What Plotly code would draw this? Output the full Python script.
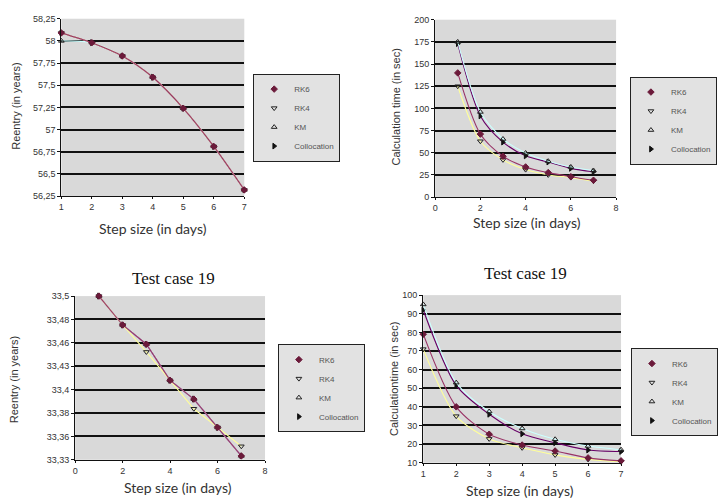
import plotly.graph_objects as go
import numpy as np

W, H = 718, 503

steps = [1, 2, 3, 4, 5, 6, 7]
series_names = ["RK6", "RK4", "KM", "Collocation"]

# Panel 1: reentry (years)
p1_rk6 = [58.09, 57.98, 57.83, 57.59, 57.24, 56.81, 56.32]
p1_rk4 = [58.09, 57.98, 57.83, 57.59, 57.24, 56.81, 56.32]
p1_km = [58.00, 57.98, 57.83, 57.59, 57.24, 56.81, 56.32]
p1_col = [58.09, 57.98, 57.83, 57.59, 57.24, 56.81, 56.32]
p1_ticks = [56.25, 56.5, 56.75, 57, 57.25, 57.5, 57.75, 58, 58.25]
p1_labels = ["56,25", "56,5", "56,75", "57", "57,25", "57,5", "57,75", "58", "58,25"]

# Panel 2: calculation time (sec)
p2_rk6 = [140, 71, 46, 34, 27.6, 23, 19]
p2_rk4 = [125, 63, 42, 31, 25, 22, 18]
p2_km = [175, 96, 65.5, 49.7, 40.5, 34, 30]
p2_col = [173, 91.5, 62, 46.5, 39.5, 32.4, 28.5]

# Panel 3: Test case 19 reentry (years)
p3_rk6 = [33.5, 33.470, 33.450, 33.4125, 33.393, 33.3636, 33.334]
p3_rk4 = [33.5, 33.470, 33.442, 33.4125, 33.383, 33.3636, 33.344]
p3_km = [33.5, 33.470, 33.450, 33.4125, 33.393, 33.3636, 33.334]
p3_col = [33.5, 33.470, 33.450, 33.4125, 33.393, 33.3636, 33.334]
p3_labels = ["33,33", "33,36", "33,38", "33,4", "33,43", "33,46", "33,48", "33,5"]

# Panel 4: Test case 19 calculation time (sec)
p4_rk6 = [79, 40, 25.3, 19.5, 16.3, 12.6, 11]
p4_rk4 = [71, 35, 22.8, 18, 14.2, 11.8, 10.5]
p4_km = [95, 53, 37.5, 28.4, 22.6, 19, 17]
p4_col = [92, 51.5, 36, 25.5, 20.7, 16.8, 16]

colors = {"RK6": "#993366", "RK4": "#FFFF99", "KM": "#CCFFFF", "Collocation": "#660066"}
symbols = {"RK6": "diamond", "RK4": "triangle-down-open", "KM": "triangle-up-open",
           "Collocation": "triangle-right"}
mcolors = {"RK6": "#6b1a3a", "RK4": "#222222", "KM": "#222222", "Collocation": "#111111"}

def px_x(a, b):
    return [a / W, b / W]

def px_y(top, bottom):
    return [1 - bottom / H, 1 - top / H]

fig = go.Figure()

panels = [
    (dict(RK6=p1_rk6, RK4=p1_rk4, KM=p1_km, Collocation=p1_col), "x", "y", "legend", "spline"),
    (dict(RK6=p2_rk6, RK4=p2_rk4, KM=p2_km, Collocation=p2_col), "x2", "y2", "legend2", "spline"),
    (dict(RK6=p3_rk6, RK4=p3_rk4, KM=p3_km, Collocation=p3_col), "x3", "y3", "legend3", "linear"),
    (dict(RK6=p4_rk6, RK4=p4_rk4, KM=p4_km, Collocation=p4_col), "x4", "y4", "legend4", "spline"),
]

for data, xa, ya, lg, shape in panels:
    for name in reversed(series_names):
        fig.add_trace(go.Scatter(
            x=steps, y=data[name], mode="lines+markers", name=name,
            xaxis=xa, yaxis=ya, showlegend=False, cliponaxis=False,
            line=dict(color=colors[name], width=1.1, shape=shape, smoothing=0.8),
            marker=dict(symbol=symbols[name], size=5, color=mcolors[name],
                        line=dict(color=mcolors[name], width=1)),
        ))
    for name in series_names:
        fig.add_trace(go.Scatter(
            x=[None], y=[None], mode="markers", name=name, legend=lg,
            xaxis=xa, yaxis=ya,
            marker=dict(symbol=symbols[name], size=5, color=mcolors[name],
                        line=dict(color=mcolors[name], width=1)),
        ))

tickfont = dict(family="Liberation Sans", size=9, color="#333333")
grid = dict(showgrid=True, gridcolor="#111111", gridwidth=1.5, showline=True,
            linecolor="#111111", linewidth=1.2, ticks="outside", ticklen=3,
            tickcolor="#111111", tickfont=tickfont, zeroline=False)
xax = dict(showgrid=False, showline=True, linecolor="#111111", linewidth=1.2,
           ticks="outside", ticklen=2, tickcolor="#111111", tickfont=tickfont,
           zeroline=False)

layout = dict(
    width=W, height=H, margin=dict(l=0, r=0, t=0, b=0),
    paper_bgcolor="white", plot_bgcolor="#d9d9d9",
    xaxis=dict(xax, domain=px_x(59, 244), range=[1, 7], tickvals=steps, anchor="y"),
    yaxis=dict(grid, domain=px_y(14, 195), range=[56.25, 58.25],
               tickvals=p1_ticks, ticktext=p1_labels, anchor="x"),
    xaxis2=dict(xax, domain=px_x(437, 620), range=[0, 8], tickvals=[0, 2, 4, 6, 8], anchor="y2"),
    yaxis2=dict(grid, domain=px_y(15, 196), range=[0, 200], tickvals=list(range(0, 201, 25)),
                anchor="x2"),
    xaxis3=dict(xax, domain=px_x(73, 265), range=[0, 8], tickvals=[0, 2, 4, 6, 8], anchor="y3"),
    yaxis3=dict(grid, domain=px_y(297, 464), range=[33.33, 33.5],
                tickvals=list(np.linspace(33.33, 33.5, len(p3_labels))),
                ticktext=p3_labels, anchor="x3"),
    xaxis4=dict(xax, domain=px_x(425, 625), range=[1, 7], tickvals=steps, anchor="y4"),
    yaxis4=dict(grid, domain=px_y(296, 467), range=[10, 100],
                tickvals=list(range(10, 101, 10)), anchor="x4"),
)

legend_style = dict(bgcolor="#e2e2e2", bordercolor="#222222", borderwidth=1,
                    font=dict(family="Liberation Sans", size=8, color="#555555"),
                    xanchor="left", yanchor="top", itemwidth=30, tracegroupgap=0)
for key, (lx, ly) in {"legend": (253, 70), "legend2": (634, 73),
                      "legend3": (278, 346), "legend4": (635, 350)}.items():
    layout[key] = dict(legend_style, x=lx / W, y=1 - ly / H)

fig.update_layout(**layout)

title_font = dict(family="Lato", size=14, color="#333333")
ytitle_font = dict(family="Liberation Sans", size=11, color="#333333")
annos = [
    ("Step size (in days)", 152, 228, 0, title_font),
    ("Step size (in days)", 530, 222, 0, title_font),
    ("Step size (in days)", 177, 492, 0, title_font),
    ("Step size (in days)", 523, 495, 0, title_font),
    ("Reentry (in years)", 13, 103, -90, ytitle_font),
    ("Calculation time (in sec)", 397, 104, -90, ytitle_font),
    ("Reentry (in years)", 12, 382, -90, ytitle_font),
    ("Calculationtime (in sec)", 396, 382, -90, ytitle_font),
    ("Test case 19", 172, 279, 0, dict(family="Liberation Serif", size=17, color="#111111")),
    ("Test case 19", 528, 274, 0, dict(family="Liberation Serif", size=17, color="#111111")),
]
for text, ax_, ay_, ang, f in annos:
    fig.add_annotation(text=text, x=ax_ / W, y=1 - ay_ / H, xref="paper", yref="paper",
                       showarrow=False, textangle=ang, font=f,
                       xanchor="center", yanchor="middle")

fig.write_html("out.html")
